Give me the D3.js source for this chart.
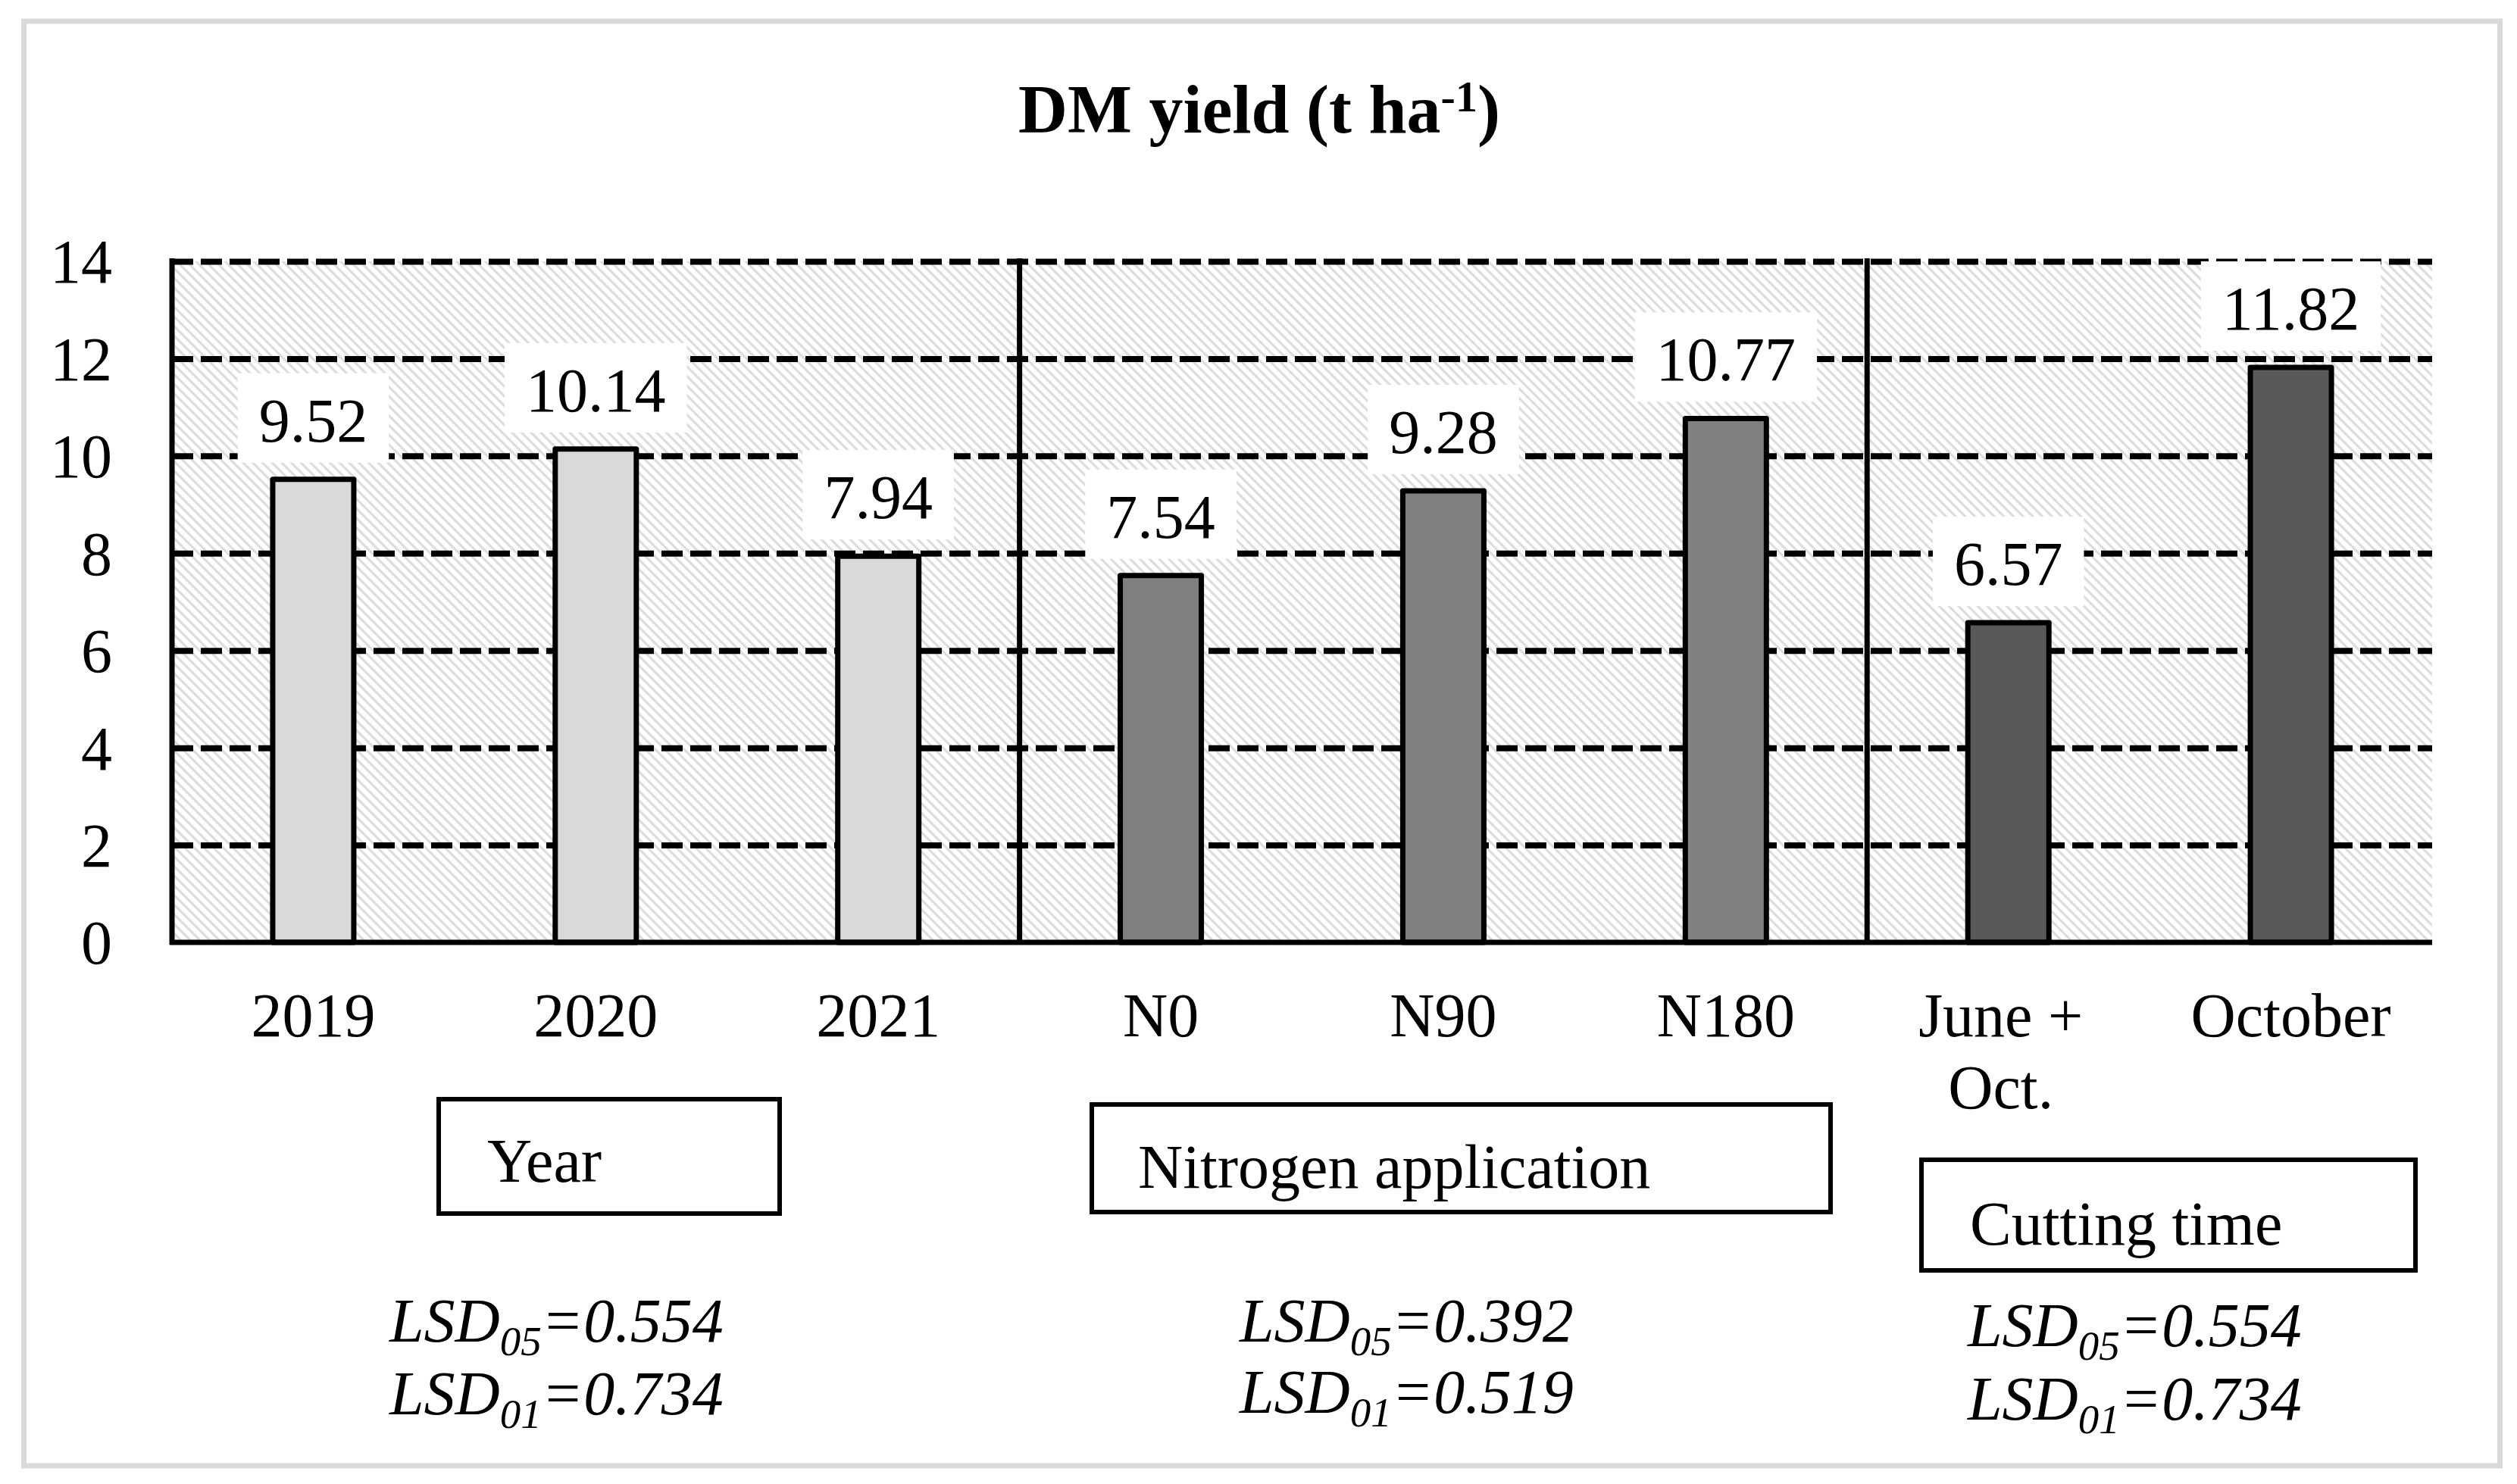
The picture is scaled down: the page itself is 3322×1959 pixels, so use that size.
<!DOCTYPE html>
<html>
<head>
<meta charset="utf-8">
<script src="https://cdn.jsdelivr.net/npm/d3@7"></script>
<style>
  body { margin: 0; background: #fff; }
  text { font-family: "Liberation Serif", "Times New Roman", serif; fill: #000; }
</style>
</head>
<body>
<svg id="chart"></svg>
<script>
// data
var categories = ["2019", "2020", "2021", "N0", "N90", "N180", "June + Oct.", "October"];
var yields = [9.52, 10.14, 7.94, 7.54, 9.28, 10.77, 6.57, 11.82];
var groupOf = [0, 0, 0, 1, 1, 1, 2, 2];
var groupNames = ["Year", "Nitrogen application", "Cutting time"];
var lsd05 = ["0.554", "0.392", "0.554"];
var lsd01 = ["0.734", "0.519", "0.734"];
var yTicks = [0, 2, 4, 6, 8, 10, 12, 14];
var groupFills = ["#d9d9d9", "#808080", "#595959"];

// layout of the group boxes and LSD notes (x, y, w, h, text x, text baseline, lsd x, lsd baselines)
var boxLayout = [
  {x: 579, y: 1451, w: 450, h: 151, tx: 643, ty: 1560, lx: 514, l1: 1771, l2: 1867},
  {x: 1441, y: 1458, w: 975, h: 142, tx: 1502, ty: 1568, lx: 1636, l1: 1771, l2: 1865},
  {x: 2536, y: 1531, w: 652, h: 146, tx: 2600, ty: 1643, lx: 2597, l1: 1777, l2: 1874}
];

var W = 3322, H = 1959;
var plot = {left: 227, right: 3210, top: 345, bottom: 1244};

var svg = d3.select("#chart").attr("width", W).attr("height", H);

// outer frame
svg.append("rect")
   .attr("x", 31.5).attr("y", 28).attr("width", 3268).attr("height", 1907)
   .attr("fill", "#fff").attr("stroke", "#d9d9d9").attr("stroke-width", 7);

// hatch pattern for the plot area
var defs = svg.append("defs");
var pat = defs.append("pattern")
   .attr("id", "hatch")
   .attr("patternUnits", "userSpaceOnUse")
   .attr("width", 9).attr("height", 9)
   .attr("patternTransform", "rotate(-45)");
pat.append("rect").attr("width", 9).attr("height", 9).attr("fill", "#fff");
pat.append("line")
   .attr("x1", 2).attr("y1", 0).attr("x2", 2).attr("y2", 9)
   .attr("stroke", "#dadada").attr("stroke-width", 3);

var x = d3.scaleBand()
          .domain(categories)
          .range([plot.left, plot.right])
          .paddingInner(0).paddingOuter(0);
var y = d3.scaleLinear()
          .domain([0, 14])
          .range([plot.bottom, plot.top]);
var barW = x.bandwidth() * 0.287;

svg.append("rect")
   .attr("x", plot.left).attr("y", plot.top)
   .attr("width", plot.right - plot.left).attr("height", plot.bottom - plot.top)
   .attr("fill", "url(#hatch)");

// dashed gridlines
var grid = svg.append("g")
   .attr("transform", "translate(" + plot.left + ",0)")
   .call(d3.axisLeft(y).tickValues(yTicks.filter(function(d){ return d > 0; }))
           .tickSize(-(plot.right - plot.left)).tickFormat(""));
grid.select(".domain").remove();
grid.selectAll("line")
    .attr("stroke", "#000").attr("stroke-width", 8)
    .attr("stroke-dasharray", "28,10");

// group dividers
var dividers = [3, 6];
svg.selectAll(".divider")
   .data(dividers)
   .enter()
   .append("line")
   .attr("class", "divider")
   .attr("x1", function(d){ return x(categories[d]); })
   .attr("x2", function(d){ return x(categories[d]); })
   .attr("y1", plot.top - 4).attr("y2", plot.bottom)
   .attr("stroke", "#000").attr("stroke-width", 7);

// bars
svg.selectAll(".bar")
   .data(yields)
   .enter()
   .append("rect")
   .attr("class", "bar")
   .attr("x", function(d, i){ return x(categories[i]) + x.bandwidth()/2 - barW/2; })
   .attr("y", function(d){ return y(d); })
   .attr("width", barW)
   .attr("height", function(d){ return y(0) - y(d); })
   .attr("fill", function(d, i){ return groupFills[groupOf[i]]; })
   .attr("stroke", "#000").attr("stroke-width", 7)
   .attr("stroke-linejoin", "round");

// value labels on white boxes
var labels = svg.selectAll(".vlab")
   .data(yields)
   .enter()
   .append("g")
   .attr("class", "vlab");
labels.each(function(d, i){
  var g = d3.select(this);
  var cx = x(categories[i]) + x.bandwidth()/2;
  var bottom = y(d) - 22;
  var rect = g.append("rect").attr("fill", "#fff");
  var t = g.append("text")
           .attr("x", cx).attr("y", bottom - 28)
           .attr("text-anchor", "middle")
           .attr("font-size", 82)
           .text(d.toFixed(2));
  var tw = t.node().getComputedTextLength();
  rect.attr("x", cx - tw/2 - 28).attr("width", tw + 56)
      .attr("y", bottom - 118).attr("height", 118);
});

// axes lines
svg.append("line")
   .attr("x1", plot.left).attr("x2", plot.left)
   .attr("y1", plot.top - 4).attr("y2", plot.bottom + 3)
   .attr("stroke", "#000").attr("stroke-width", 7);
svg.append("line")
   .attr("x1", plot.left - 3).attr("x2", plot.right)
   .attr("y1", plot.bottom).attr("y2", plot.bottom)
   .attr("stroke", "#000").attr("stroke-width", 7);

// y tick labels
var yAxis = svg.append("g")
   .attr("transform", "translate(148,0)")
   .call(d3.axisLeft(y).tickValues(yTicks).tickSize(0).tickPadding(0));
yAxis.select(".domain").remove();
yAxis.selectAll("text")
     .attr("font-size", 82)
     .attr("font-family", "Liberation Serif")
     .attr("dy", "0.34em")
     .attr("fill", "#000");

// x tick labels (wrap "June + Oct.")
var xAxis = svg.append("g")
   .attr("transform", "translate(0," + plot.bottom + ")")
   .call(d3.axisBottom(x).tickSize(0).tickPadding(0));
xAxis.select(".domain").remove();
xAxis.selectAll("text")
     .attr("font-size", 82)
     .attr("font-family", "Liberation Serif")
     .attr("fill", "#000")
     .attr("y", 124).attr("dy", null)
     .each(function(d){
       var t = d3.select(this);
       if (d === "June + Oct.") {
         t.text(null);
         t.append("tspan").attr("x", -10).attr("y", 124).text("June +");
         t.append("tspan").attr("x", -10).attr("y", 219).text("Oct.");
       }
     });

// title
var title = svg.append("text")
   .attr("x", 1662).attr("y", 175)
   .attr("text-anchor", "middle")
   .attr("font-size", 90).attr("font-weight", "bold");
title.append("tspan").text("DM yield (t ha");
title.append("tspan").attr("font-size", 58).attr("dy", -28).text("-1");
title.append("tspan").attr("dy", 28).text(")");

// group boxes and LSD notes
boxLayout.forEach(function(b, i){
  svg.append("rect")
     .attr("x", b.x).attr("y", b.y).attr("width", b.w).attr("height", b.h)
     .attr("fill", "#fff").attr("stroke", "#000").attr("stroke-width", 6);
  svg.append("text")
     .attr("x", b.tx).attr("y", b.ty)
     .attr("font-size", 82)
     .text(groupNames[i]);
  [[lsd05[i], "05", b.l1], [lsd01[i], "01", b.l2]].forEach(function(l){
    var t = svg.append("text")
       .attr("x", b.lx).attr("y", l[2])
       .attr("font-size", 82).attr("font-style", "italic");
    t.append("tspan").text("LSD");
    t.append("tspan").attr("font-size", 55).attr("dy", 18).text(l[1]);
    t.append("tspan").attr("dy", -18).text("=" + l[0]);
  });
});
</script>
</body>
</html>
